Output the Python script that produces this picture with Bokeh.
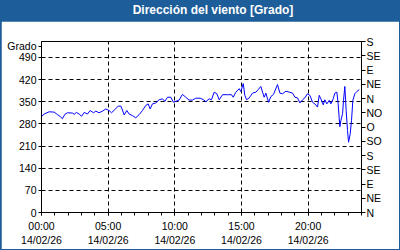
from bokeh.plotting import figure
from bokeh.models import (LinearAxis, FixedTicker, Range1d, Div, Column)
from bokeh.embed import file_html
from bokeh.resources import INLINE

title_text = "Dirección del viento [Grado]"
y_label = "Grado"

# hours since 00:00 14/02/26 and wind direction in degrees
hours = [0.00, 0.20, 0.57, 0.95, 1.20, 1.40, 1.57, 1.75, 1.95, 2.32, 2.45, 2.62, 2.82, 3.00,
         3.20, 3.45, 3.65, 3.90, 4.07, 4.32, 4.57, 4.82, 5.07, 5.25, 5.50, 5.75, 5.95, 6.07,
         6.20, 6.40, 6.57, 6.82, 7.07, 7.32, 7.57, 7.82, 8.00, 8.15, 8.32, 8.57, 8.82, 9.07,
         9.25, 9.45, 9.70, 9.90, 10.07, 10.32, 10.57, 10.82, 11.07, 11.32, 11.57, 11.90,
         12.15, 12.33, 12.58, 12.75, 12.95, 13.15, 13.33, 13.58, 13.95, 14.25, 14.38, 14.58,
         14.83, 14.95, 15.13, 15.25, 15.38, 15.58, 15.83, 16.08, 16.25, 16.45, 16.58, 16.70,
         16.83, 16.95, 17.03, 17.20, 17.40, 17.70, 17.88, 18.08, 18.33, 18.58, 18.83, 19.00,
         19.20, 19.38, 19.58, 19.75, 19.95, 20.13, 20.33, 20.50, 20.70, 20.83, 20.95, 21.13,
         21.25, 21.40, 21.58, 21.70, 21.88, 22.00, 22.15, 22.25, 22.33, 22.38, 22.45, 22.58,
         22.65, 22.75, 22.85, 22.95, 23.03, 23.15, 23.25, 23.35, 23.50, 23.65, 23.83]
direction = [303, 311, 318, 317, 309, 303, 296, 310, 315, 314, 310, 316, 311, 304,
             316, 311, 322, 315, 320, 315, 320, 327, 322, 315, 325, 336, 336, 324,
             308, 322, 311, 306, 299, 309, 322, 338, 343, 327, 343, 346, 356, 359,
             351, 364, 364, 348, 351, 355, 373, 364, 355, 355, 361, 361,
             356, 350, 359, 356, 380, 375, 356, 372, 372, 372, 364, 380,
             391, 382, 407, 370, 356, 362, 377, 380, 388, 398, 380, 364,
             377, 359, 348, 366, 373, 404, 377, 375, 383, 380, 377, 364,
             362, 346, 356, 362, 375, 370, 348, 343, 333, 370, 359, 340,
             356, 343, 354, 343, 359, 377, 380, 343, 296, 271, 290, 312,
             354, 398, 322, 259, 222, 248, 290, 354, 375, 382, 388]

x_ticks = [0, 5, 10, 15, 20]
x_tick_labels = ["00:00\n14/02/26", "05:00\n14/02/26", "10:00\n14/02/26",
                 "15:00\n14/02/26", "20:00\n14/02/26"]
y_ticks = [0, 70, 140, 210, 280, 350, 420, 490]
y_label_at = 525
compass_ticks = [0, 45, 90, 135, 180, 225, 270, 315, 360, 405, 450, 495, 540]
compass_labels = ["N", "NE", "E", "SE", "S", "SO", "O", "NO", "N", "NE", "E", "SE", "S"]

BLUE = "#1d5d99"
FONT = "Liberation Sans"

p = figure(width=398, height=228, output_backend="svg", toolbar_location=None,
           x_range=Range1d(0, 24), y_range=Range1d(0, 540),
           min_border_left=40, min_border_right=38, min_border_top=20, min_border_bottom=37,
           margin=(0, 1, 1, 1), background_fill_color="white", border_fill_color="white")
p.outline_line_color = "black"
p.outline_line_alpha = 1.0

p.line(hours, direction, line_color="#0000ff", line_width=1)

# bottom axis
xa = p.xaxis[0]
xa.ticker = FixedTicker(ticks=x_ticks, minor_ticks=list(range(0, 25)))
xa.major_label_overrides = {t: l for t, l in zip(x_ticks, x_tick_labels)}
xa.major_tick_out = 3
xa.major_tick_in = 0
xa.minor_tick_out = 3
xa.minor_tick_in = 0
xa.axis_line_color = "black"
xa.major_label_text_font = FONT
xa.major_label_text_font_size = "10.5px"
xa.major_label_text_color = "black"
xa.major_label_standoff = 4

# left axis (unit name shown as the topmost label)
ya = p.yaxis[0]
ya.ticker = FixedTicker(ticks=y_ticks + [y_label_at], minor_ticks=[])
ya.major_label_overrides = {y_label_at: y_label}
ya.major_tick_out = 3
ya.major_tick_in = 0
ya.minor_tick_line_color = None
ya.major_label_text_font = FONT
ya.major_label_text_font_size = "10.5px"
ya.major_label_text_color = "black"
ya.major_label_standoff = 2

# right compass axis
ra = LinearAxis(ticker=FixedTicker(ticks=compass_ticks, minor_ticks=[]))
ra.major_label_overrides = {t: l for t, l in zip(compass_ticks, compass_labels)}
ra.major_tick_out = 4
ra.major_tick_in = 0
ra.minor_tick_line_color = None
ra.major_label_text_font = FONT
ra.major_label_text_font_size = "10.5px"
ra.major_label_text_color = "black"
ra.major_label_standoff = 1
p.add_layout(ra, "right")

# grid
p.xgrid.ticker = FixedTicker(ticks=x_ticks[1:])
p.ygrid.ticker = FixedTicker(ticks=y_ticks[1:])
for g in (p.xgrid[0], p.ygrid[0]):
    g.grid_line_color = "black"
    g.grid_line_dash = "4 3"
    g.grid_line_width = 1

title = Div(text=f'<div style="width:400px;height:21px;background:{BLUE};color:white;'
                 f'font-family:\'{FONT}\';font-weight:bold;font-size:12px;line-height:21px;'
                 f'text-align:center;padding-left:26px;box-sizing:border-box;">{title_text}</div>',
            width=400, height=21, margin=(0, 0, 0, 0))

layout = Column(title, p, width=400, height=250, spacing=0,
                styles={"background-color": BLUE})

open("out.html", "w").write(file_html(layout, INLINE))
